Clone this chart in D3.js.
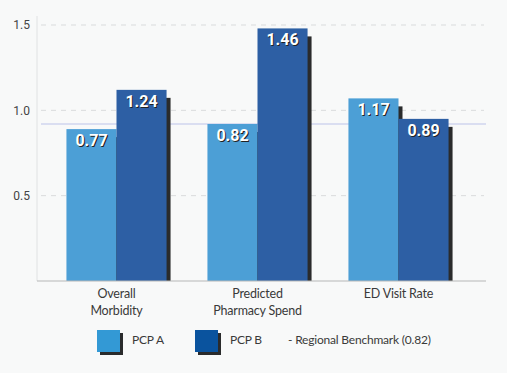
<!DOCTYPE html>
<html>
<head>
<meta charset="utf-8">
<script src="https://cdn.jsdelivr.net/npm/d3@7"></script>
<style>
  body { margin: 0; background: #f8f9f9; }
  svg { display: block; }
</style>
</head>
<body>
<div id="chart"></div>
<script>
// categories and values
var categories = [["Overall", "Morbidity"], ["Predicted", "Pharmacy Spend"], ["ED Visit Rate"]];
// bar heights as drawn against the axis
var pcpA = [0.89, 0.92, 1.07];
var pcpB = [1.12, 1.48, 0.95];
// value labels printed on the bars
var pcpALabels = ["0.77", "0.82", "1.17"];
var pcpBLabels = ["1.24", "1.46", "0.89"];
var benchmark = 0.92;
var benchmarkLabel = "- Regional Benchmark (0.82)";
var yTicks = [0.5, 1.0, 1.5];

var W = 507, H = 373;
var colA = "#4c9fd6", colB = "#2d5fa4";
var labelFont = "Lato, sans-serif";

var svg = d3.select("#chart").append("svg")
  .attr("width", W)
  .attr("height", H);

var y = d3.scaleLinear().domain([0, 1.5]).range([281, 25]);

var x = d3.scaleBand()
  .domain(d3.range(categories.length))
  .range([46, 469])
  .paddingInner(0.29)
  .paddingOuter(0.145);

// gridlines
svg.append("g")
  .selectAll("line")
  .data(yTicks)
  .enter()
  .append("line")
    .attr("x1", 41).attr("x2", 484)
    .attr("y1", d => y(d)).attr("y2", d => y(d))
    .attr("stroke", "#d9dbdc")
    .attr("stroke-dasharray", "5,5");

// y axis
var yAxis = svg.append("g")
  .attr("transform", "translate(37,0)")
  .call(d3.axisLeft(y).tickValues(yTicks).tickFormat(d3.format(".1f")).tickSize(0).tickPadding(7));
yAxis.select(".domain").attr("stroke", "#e0e2e3").attr("d", "M0,16V281");
yAxis.selectAll("text")
  .attr("fill", "#444")
  .style("font-family", "Roboto, sans-serif")
  .style("font-size", "12px");

// benchmark line
svg.append("line")
  .attr("x1", 41).attr("x2", 486)
  .attr("y1", y(benchmark)).attr("y2", y(benchmark))
  .attr("stroke", "#d0d4ee")
  .attr("stroke-width", 1.5);

var half = x.bandwidth() / 2;

function drawBars(vals, offset, color) {
  var g = svg.append("g");
  // dark drop shadow
  g.selectAll("rect.shadow")
    .data(vals)
    .enter()
    .append("rect")
      .attr("class", "shadow")
      .attr("x", (d, i) => x(i) + offset + 4)
      .attr("y", d => y(d) + 8)
      .attr("width", half)
      .attr("height", d => Math.max(0, y(0) - y(d) - 8))
      .attr("fill", "#2a2b2c");
  g.selectAll("rect.bar")
    .data(vals)
    .enter()
    .append("rect")
      .attr("class", "bar")
      .attr("x", (d, i) => x(i) + offset)
      .attr("y", d => y(d))
      .attr("width", half)
      .attr("height", d => y(0) - y(d))
      .attr("fill", color);
}

function drawLabels(vals, labels, offset) {
  var g = svg.append("g")
    .style("font-family", "Roboto, sans-serif")
    .style("font-size", "16px")
    .style("font-weight", "bold")
    .attr("text-anchor", "middle");
  g.selectAll("text.sh")
    .data(vals)
    .enter()
    .append("text")
      .attr("x", (d, i) => x(i) + offset + half / 2 + 1)
      .attr("y", d => y(d) + 18)
      .attr("fill", "#222")
      .text((d, i) => labels[i]);
  g.selectAll("text.lb")
    .data(vals)
    .enter()
    .append("text")
      .attr("x", (d, i) => x(i) + offset + half / 2)
      .attr("y", d => y(d) + 17)
      .attr("fill", "#fff")
      .text((d, i) => labels[i]);
}

drawBars(pcpA, 0, colA);
drawBars(pcpB, half, colB);
drawLabels(pcpA, pcpALabels, 0);
drawLabels(pcpB, pcpBLabels, half);

// x axis
svg.append("line")
  .attr("x1", 37).attr("x2", 486)
  .attr("y1", 281).attr("y2", 281)
  .attr("stroke", "#b5b7b8")
  .attr("stroke-width", 1.2);

var xl = svg.append("g")
  .style("font-family", labelFont)
  .style("font-size", "12.5px")
  .style("letter-spacing", "-0.2px")
  .attr("fill", "#3a3a3a")
  .attr("text-anchor", "middle");
xl.selectAll("text")
  .data(categories)
  .enter()
  .append("text")
    .attr("x", (d, i) => x(i) + x.bandwidth() / 2)
    .attr("y", 298)
    .each(function(d) {
      var t = d3.select(this);
      d.forEach(function(line, j) {
        t.append("tspan")
          .attr("x", t.attr("x"))
          .attr("dy", j === 0 ? 0 : 16.5)
          .text(line);
      });
    });

// legend
var legend = [
  { label: "PCP A", color: "#3399d5", x: 97 },
  { label: "PCP B", color: "#0a539e", x: 195 }
];
var lg = svg.append("g")
  .style("font-family", labelFont)
  .style("font-size", "12px")
  .style("letter-spacing", "-0.2px")
  .attr("fill", "#3a3a3a");
legend.forEach(function(l) {
  lg.append("rect")
    .attr("x", l.x + 3).attr("y", 333)
    .attr("width", 23).attr("height", 22)
    .attr("fill", "#2a2b2c");
  lg.append("rect")
    .attr("x", l.x).attr("y", 330)
    .attr("width", 23).attr("height", 22)
    .attr("fill", l.color);
  lg.append("text")
    .attr("x", l.x + 35).attr("y", 344)
    .text(l.label);
});
lg.append("text")
  .attr("x", 288).attr("y", 344)
  .text(benchmarkLabel);
</script>
</body>
</html>
